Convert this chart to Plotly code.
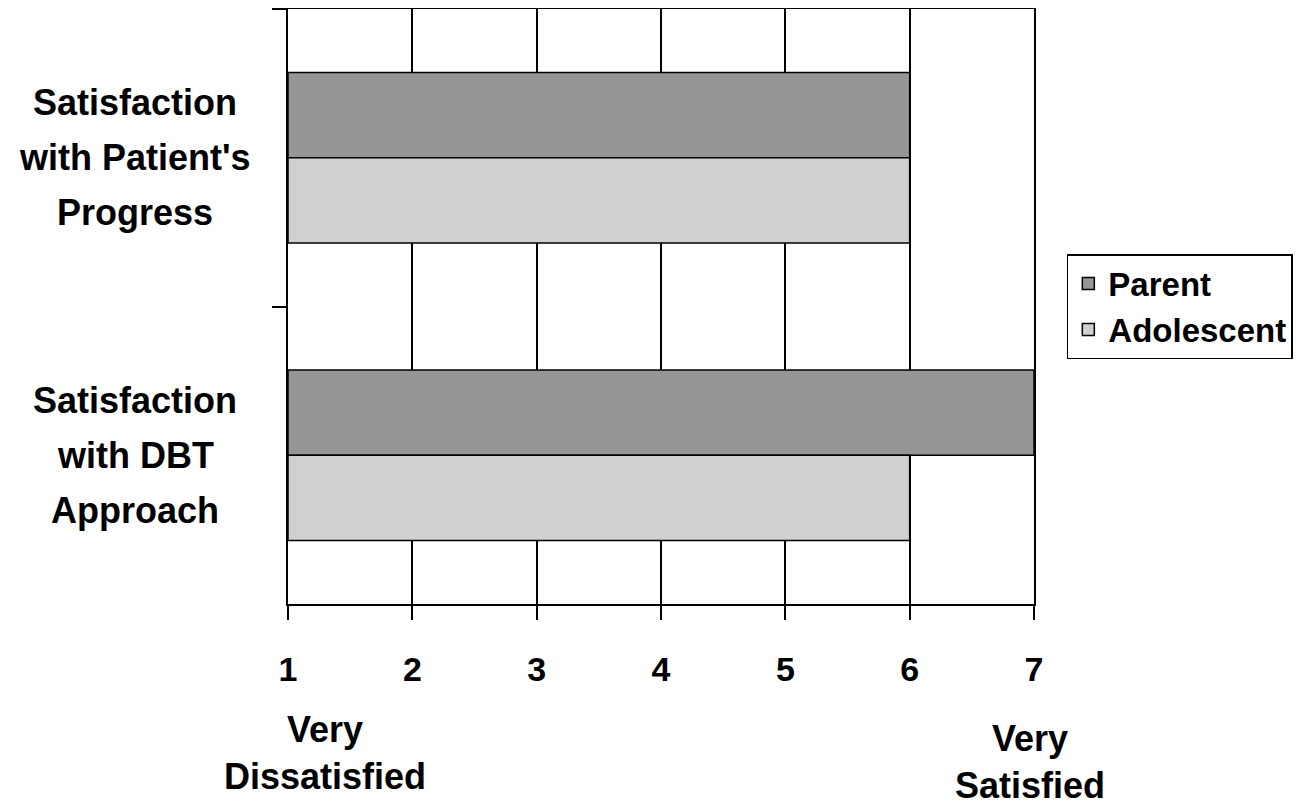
import plotly.graph_objects as go

categories = ["Satisfaction with Patient's Progress", "Satisfaction with DBT Approach"]
category_lines = [["Satisfaction", "with Patient's", "Progress"], ["Satisfaction", "with DBT", "Approach"]]
parent = [6, 7]
adolescent = [6, 6]
scale_min = 1
scale_max = 7
x_ticks = [1, 2, 3, 4, 5, 6, 7]
anchor_labels = ["Very<br>Dissatisfied", "Very<br>Satisfied"]

FONT = "Liberation Sans, Arial, sans-serif"

fig = go.Figure()
fig.add_trace(go.Bar(
    name="Parent", y=categories, x=[v - scale_min for v in parent], base=scale_min,
    orientation="h", marker=dict(color="#969696", line=dict(color="black", width=1.5)),
))
fig.add_trace(go.Bar(
    name="Adolescent", y=categories, x=[v - scale_min for v in adolescent], base=scale_min,
    orientation="h", marker=dict(color="#d0d0d0", line=dict(color="black", width=1.5)),
))

fig.update_layout(
    width=1296, height=799,
    margin=dict(l=280, r=270, t=1, b=203, autoexpand=False),
    paper_bgcolor="white", plot_bgcolor="white",
    barmode="group", bargap=0.427, bargroupgap=0,
    font=dict(family=FONT, color="black"),
    showlegend=True,
    legend=dict(
        x=1.044, y=0.588, xanchor="left", yanchor="top",
        bordercolor="black", borderwidth=1.5, bgcolor="white",
        font=dict(family=FONT, size=33, color="black", weight="bold"),
        traceorder="normal",
    ),
    xaxis=dict(
        range=[scale_min, scale_max], tickvals=x_ticks, ticktext=[str(t) for t in x_ticks],
        showgrid=True, gridcolor="black", gridwidth=1.5,
        showline=True, linecolor="black", linewidth=1.5, mirror=True,
        ticks="outside", ticklen=14, tickwidth=1.5, tickcolor="black",
        tickfont=dict(family=FONT, size=34, color="black", weight="bold"),
        ticklabelstandoff=20, zeroline=False,
    ),
    yaxis=dict(
        categoryorder="array", categoryarray=categories, autorange="reversed",
        showgrid=False, showline=True, linecolor="black", linewidth=1.5, mirror=True,
        ticks="outside", ticklen=14, tickwidth=1.5, tickcolor="black",
        tickson="boundaries", showticklabels=False,
    ),
)

line_gap = 55
for cat, lines in zip(categories, category_lines):
    mid = (len(lines) - 1) / 2
    for i, ln in enumerate(lines):
        fig.add_annotation(
            x=-0.205, xref="paper", y=cat, yref="y", text=ln, showarrow=False,
            xanchor="center", yanchor="middle", align="center",
            yshift=(mid - i) * line_gap,
            font=dict(family=FONT, size=36, color="black", weight="bold"),
        )

fig.add_annotation(
    x=scale_min + 0.3, xref="x", y=-0.251, yref="paper", text=anchor_labels[0], showarrow=False,
    xanchor="center", yanchor="middle", align="center",
    font=dict(family=FONT, size=36, color="black", weight="bold"),
)
fig.add_annotation(
    x=scale_max - 0.03, xref="x", y=-0.266, yref="paper", text=anchor_labels[1], showarrow=False,
    xanchor="center", yanchor="middle", align="center",
    font=dict(family=FONT, size=36, color="black", weight="bold"),
)

fig.write_html("out.html")
